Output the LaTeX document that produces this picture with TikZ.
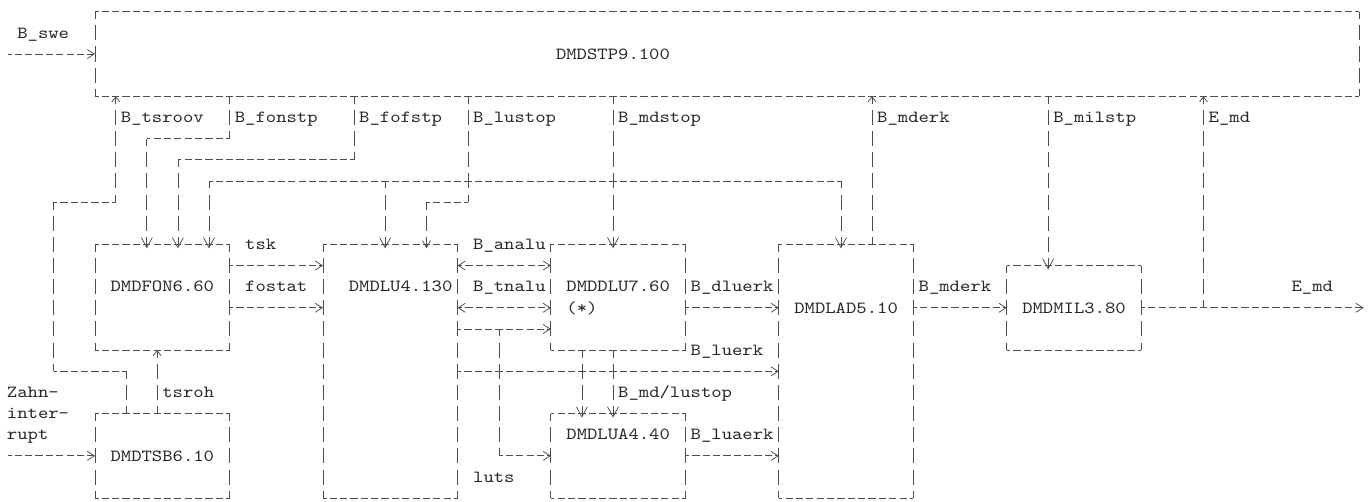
\documentclass[tikz,border=0pt]{standalone}
\usepackage{fontspec}
\newfontfamily\asciifont{lmmono10-regular.otf}[FakeStretch=1.16]
\usetikzlibrary{arrows.meta,fit}

\begin{document}
\begin{tikzpicture}[x=10.36pt,y=-21.15pt,line width=0.75pt,
  hl/.style={draw=black!70,dash pattern=on 7.2pt off 3.16pt,dash phase=3.6pt},
  vl/.style={draw=black!70,dash pattern=on 15pt off 6.15pt,dash phase=7.5pt},
  hr/.style={hl,-{Straight Barb[length=7pt,width=9pt]}},
  hlr/.style={hl,{Straight Barb[length=7pt,width=9pt]}-{Straight Barb[length=7pt,width=9pt]}},
  vdn/.style={vl,-{Straight Barb[length=10pt,width=11pt]},shorten >=-4pt},
  vsm/.style={vl,-{Straight Barb[length=7pt,width=8pt]},shorten >=-4pt},
  vup/.style={vl,-{Straight Barb[length=5pt,width=8pt]}},
  modbox/.style={inner sep=0pt,outer sep=0pt,fit={#1},append after command={
    (\tikzlastnode.north west) edge[hl] (\tikzlastnode.north east)
    (\tikzlastnode.south west) edge[hl] (\tikzlastnode.south east)
    (\tikzlastnode.north west) edge[vl] (\tikzlastnode.south west)
    (\tikzlastnode.north east) edge[vl] (\tikzlastnode.south east)}},
  lbl/.style={anchor=base west,inner sep=0pt,outer sep=0pt,xshift=-5.18pt,yshift=-5.2pt,text=black!85,font=\asciifont\fontsize{17}{21}\selectfont}]
\useasboundingbox (-1.17,-0.553) rectangle (131.26,23.18);

% modules
\node[modbox={(8,0) (130,4)}] (stp) {};
\node[modbox={(8,11) (21,16)}] (fon) {};
\node[modbox={(8,19) (21,23)}] (tsb) {};
\node[modbox={(30,11) (43,23)}] (lu) {};
\node[modbox={(52,11) (65,16)}] (dlu) {};
\node[modbox={(52,19) (65,23)}] (lua) {};
\node[modbox={(74,11) (87,23)}] (lad) {};
\node[modbox={(96,12) (109,16)}] (mil) {};
\node[lbl] (tstp) at (53,2) {DMDSTP9.100};
\node[lbl] (tfon) at (10,13) {DMDFON6.60};
\node[lbl] (ttsb) at (10,21) {DMDTSB6.10};
\node[lbl] (tlu) at (33,13) {DMDLU4.130};
\node[lbl] (tdlu) at (54,13) {DMDDLU7.60};
\node[lbl] (tdlu2) at (54,14) {(*)};
\node[lbl] (tlua) at (54,20) {DMDLUA4.40};
\node[lbl] (tlad) at (76,14) {DMDLAD5.10};
\node[lbl] (tmil) at (98,14) {DMDMIL3.80};

% free ends and branch points
\coordinate (swein) at (-0.4,2);
\coordinate (zahnin) at (-0.4,21);
\coordinate (emdout) at (130.45,14);
\coordinate (mdj) at (58,8);
\coordinate (mdw) at (19,8);
\coordinate (mde) at (80,8);
\coordinate (luj) at (36,8);
\coordinate (lutsj) at (47,15);
\coordinate (emdj) at (115,14);

% signals
\draw[hr] (swein) -- (stp.west);
\draw[hr] (zahnin) -- (tsb.west);
\path (tsb.north -| 11,0) edge[vl] (11,17) (11,17) edge[hl] (4,17) (4,17) edge[vl] (4,9)
  (4,9) edge[hl] (10,9) (10,9) edge[vup] (stp.south -| 10,0);
\draw[vup] (tsb.north -| 14,0) -- (fon.south -| 14,0);
\path (stp.south -| 21,0) edge[vl] (21,6) (21,6) edge[hl] (13,6) (13,6) edge[vdn] (fon.north -| 13,0);
\path (stp.south -| 33,0) edge[vl] (33,7) (33,7) edge[hl] (16,7) (16,7) edge[vdn] (fon.north -| 16,0);
\path (stp.south -| 44,0) edge[vl] (44,9) (44,9) edge[hl] (40,9) (40,9) edge[vsm] (lu.north -| 40,0);
\draw[vdn] (stp.south -| mdj) -- (dlu.north -| mdj);
\draw[hl] (mdw) -- (mde);
\draw[vdn] (mdw) -- (fon.north -| mdw);
\draw[vdn] (luj) -- (lu.north -| luj);
\draw[vdn] (mde) -- (lad.north -| mde);
\draw[hr] (fon.east |- 0,12) -- (lu.west |- 0,12);
\draw[hr] (fon.east |- 0,14) -- (lu.west |- 0,14);
\draw[hlr] (lu.east |- 0,12) -- (dlu.west |- 0,12);
\draw[hlr] (lu.east |- 0,14) -- (dlu.west |- 0,14);
\draw[hr] (lu.east |- lutsj) -- (dlu.west |- lutsj);
\path (lutsj) edge[vl] (lutsj |- lua.west) (lutsj |- lua.west) edge[hr] (lua.west);
\draw[vdn] (dlu.south -| 55,0) -- (lua.north -| 55,0);
\draw[vdn] (dlu.south -| 58,0) -- (lua.north -| 58,0);
\draw[hr] (lu.east |- 0,17) -- (lad.west |- 0,17);
\draw[hr] (dlu.east |- 0,14) -- (lad.west |- 0,14);
\draw[hr] (lua.east) -- (lad.west |- lua.east);
\draw[vup] (lad.north -| 83,0) -- (stp.south -| 83,0);
\draw[hr] (lad.east |- mil.west) -- (mil.west);
\draw[vdn] (stp.south -| 100,0) -- (mil.north -| 100,0);
\draw[hr] (mil.east) -- (emdout);
\draw[vup] (emdj) -- (stp.south -| emdj);

% signal names
\node[lbl] (lswe) at (1,1) {B\_swe};
\node[lbl] (ltsroov) at (11,5) {B\_tsroov};
\node[lbl] (lfonstp) at (22,5) {B\_fonstp};
\node[lbl] (lfofstp) at (34,5) {B\_fofstp};
\node[lbl] (llustop) at (45,5) {B\_lustop};
\node[lbl] (lmdstop) at (59,5) {B\_mdstop};
\node[lbl] (lmderk) at (84,5) {B\_mderk};
\node[lbl] (lmilstp) at (101,5) {B\_milstp};
\node[lbl] (lemd) at (116,5) {E\_md};
\node[lbl] (ltsk) at (23,11) {tsk};
\node[lbl] (lfostat) at (23,13) {fostat};
\node[lbl] (lanalu) at (45,11) {B\_analu};
\node[lbl] (ltnalu) at (45,13) {B\_tnalu};
\node[lbl] (ldluerk) at (66,13) {B\_dluerk};
\node[lbl] (lmderk2) at (88,13) {B\_mderk};
\node[lbl] (lemd2) at (124,13) {E\_md};
\node[lbl] (lluerk) at (66,16) {B\_luerk};
\node[lbl] (ltsroh) at (15,18) {tsroh};
\node[lbl] (lmdlu) at (59,18) {B\_md/lustop};
\node[lbl] (lluaerk) at (66,20) {B\_luaerk};
\node[lbl] (lluts) at (45,22) {luts};
\node[lbl] (lzahn) at (0,18) {Zahn-};
\node[lbl] (linter) at (0,19) {inter-};
\node[lbl] (lrupt) at (0,20) {rupt};
\end{tikzpicture}
\end{document}
